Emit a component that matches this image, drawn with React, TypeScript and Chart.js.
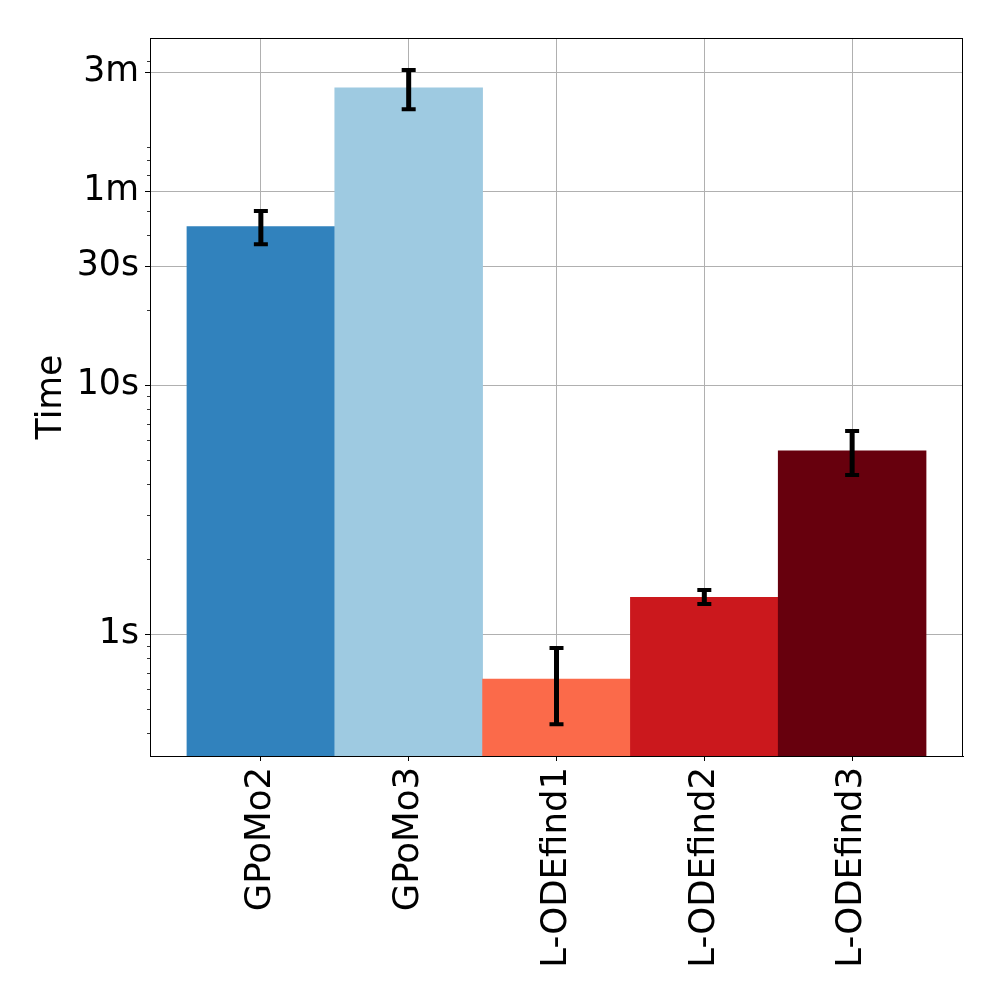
import React, { useEffect, useRef } from "react";
import { Chart, registerables } from "chart.js";

Chart.register(...registerables);

const categories = ["GPoMo2", "GPoMo3", "L-ODEfind1", "L-ODEfind2", "L-ODEfind3"];
const meanSeconds = [43.3, 156, 0.66, 1.404, 5.45];
const errLowSeconds = [36.8, 128, 0.435, 1.32, 4.35];
const errHighSeconds = [50.0, 184, 0.879, 1.502, 6.54];
const barColors = ["#3182bd", "#9ecae1", "#fb6a4a", "#cb181d", "#67000d"];
const yTickValues = [1, 10, 30, 60, 180];
const yTickLabels = ["1s", "10s", "30s", "1m", "3m"];
const yMinorTicks = [0.4, 0.5, 0.6, 0.7, 0.8, 0.9, 2, 3, 4, 5, 6, 7, 8, 9, 20, 40, 50, 70, 80, 90, 200];
const yMin = 0.324;
const yMax = 247.5;

const FONT = "'DejaVu Sans', sans-serif";
const FS = 34.7;

export default function App() {
  const ref = useRef<HTMLCanvasElement | null>(null);

  useEffect(() => {
    if (!ref.current) return;
    const overlay = {
      id: "overlay",
      afterDraw(chart: any) {
        const ctx = chart.ctx;
        const x = chart.scales.x;
        const y = chart.scales.y;
        const area = chart.chartArea;
        ctx.save();
        ctx.strokeStyle = "#000";
        ctx.lineWidth = 0.8;
        for (const v of yMinorTicks) {
          const py = Math.round(y.getPixelForValue(v)) + 0.5;
          ctx.beginPath();
          ctx.moveTo(area.left - 3, py);
          ctx.lineTo(area.left, py);
          ctx.stroke();
        }
        ctx.lineWidth = 1;
        ctx.strokeRect(area.left + 0.5, area.top + 0.5, area.right - area.left - 1, area.bottom - area.top);
        for (let i = 0; i < categories.length; i++) {
          const cx = x.getPixelForValue(i);
          const yl = y.getPixelForValue(errLowSeconds[i]);
          const yh = y.getPixelForValue(errHighSeconds[i]);
          ctx.strokeStyle = "#000";
          ctx.lineWidth = 5;
          ctx.beginPath();
          ctx.moveTo(cx, yl);
          ctx.lineTo(cx, yh);
          ctx.stroke();
          ctx.lineWidth = 4;
          ctx.beginPath();
          ctx.moveTo(cx - 7, yl);
          ctx.lineTo(cx + 7, yl);
          ctx.moveTo(cx - 7, yh);
          ctx.lineTo(cx + 7, yh);
          ctx.stroke();
        }
        ctx.restore();
      },
    };

    const chart = new Chart(ref.current, {
      type: "bar",
      data: {
        datasets: [
          {
            data: meanSeconds.map((v, i) => ({ x: i, y: v })),
            backgroundColor: barColors,
            borderWidth: 0,
            barPercentage: 1,
            categoryPercentage: 1,
          },
        ],
      },
      options: {
        responsive: false,
        maintainAspectRatio: false,
        animation: false,
        devicePixelRatio: 1,
        layout: { padding: { left: 0, top: 38, right: 37, bottom: 0 } },
        plugins: { legend: { display: false }, tooltip: { enabled: false } },
        scales: {
          x: {
            type: "linear",
            min: -0.75,
            max: 4.75,
            bounds: "data",
            offset: false,
            z: 1,
            grid: { offset: false, color: "#b0b0b0", lineWidth: 1, tickLength: 5, tickColor: "#000", tickWidth: 1 },
            border: { display: true, color: "#000", width: 1 },
            afterBuildTicks: (s: any) => {
              s.ticks = categories.map((_, i) => ({ value: i }));
            },
            afterFit: (s: any) => {
              s.height = 244;
            },
            ticks: {
              autoSkip: false,
              minRotation: 90,
              maxRotation: 90,
              padding: 6,
              color: "#000",
              font: { family: FONT, size: 35.5 },
              callback: (v: any) => categories[v] ?? "",
            },
          },
          y: {
            type: "logarithmic",
            min: yMin,
            max: yMax,
            bounds: "data",
            z: 1,
            grid: { color: "#b0b0b0", lineWidth: 1, tickLength: 5, tickColor: "#000", tickWidth: 1 },
            border: { display: true, color: "#000", width: 1 },
            afterBuildTicks: (s: any) => {
              s.ticks = yTickValues.map((v) => ({ value: v }));
            },
            afterFit: (s: any) => {
              s.width = 150;
            },
            ticks: {
              padding: 6,
              color: "#000",
              font: { family: FONT, size: FS },
              callback: (v: any) => {
                const idx = yTickValues.indexOf(Number(v));
                return idx >= 0 ? yTickLabels[idx] : "";
              },
            },
            title: {
              display: true,
              text: "Time",
              color: "#000",
              font: { family: FONT, size: FS, lineHeight: 1.2 },
              padding: { top: 31, bottom: 0 },
            },
          },
        },
      },
      plugins: [overlay],
    } as any);
    return () => chart.destroy();
  }, []);

  return (
    <div style={{ position: "absolute", left: 0, top: 0, width: 1000, height: 1000, background: "#fff" }}>
      <canvas ref={ref} width={1000} height={1000} />
    </div>
  );
}
